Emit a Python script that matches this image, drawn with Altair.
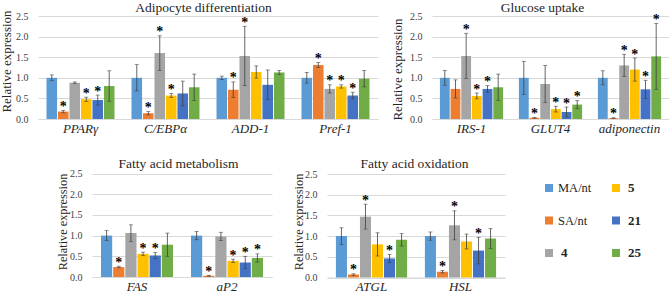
import altair as alt
import pandas as pd

GROUPS = ["MA/nt", "SA/nt", "4", "5", "21", "25"]
COLORS = ["#5B9BD5", "#ED7D31", "#A5A5A5", "#FFC000", "#4472C4", "#70AD47"]

# Adipocyte differentiation
ADIPO_GENES = ["PPARγ", "C/EBPα", "ADD-1", "Pref-1"]
ADIPO_MEAN = [
    [1.00, 0.18, 0.88, 0.48, 0.46, 0.80],
    [1.00, 0.14, 1.60, 0.57, 0.62, 0.77],
    [1.00, 0.71, 1.53, 1.14, 0.83, 1.13],
    [1.00, 1.31, 0.73, 0.79, 0.57, 0.98],
]
ADIPO_ERR = [
    [0.07, 0.03, 0.02, 0.05, 0.12, 0.37],
    [0.32, 0.04, 0.42, 0.05, 0.30, 0.32],
    [0.04, 0.19, 0.72, 0.15, 0.36, 0.05],
    [0.13, 0.06, 0.10, 0.04, 0.08, 0.20],
]
ADIPO_SIG = [
    [0, 1, 0, 1, 1, 0],
    [0, 1, 1, 1, 0, 0],
    [0, 1, 1, 0, 0, 0],
    [0, 1, 1, 1, 1, 0],
]

# Glucose uptake
GLUC_GENES = ["IRS-1", "GLUT4", "adiponectin"]
GLUC_MEAN = [
    [1.00, 0.73, 1.53, 0.56, 0.73, 0.77],
    [1.00, 0.03, 0.85, 0.24, 0.17, 0.35],
    [1.00, 0.02, 1.30, 1.20, 0.72, 1.52],
]
GLUC_ERR = [
    [0.18, 0.22, 0.55, 0.07, 0.08, 0.32],
    [0.40, 0.01, 0.45, 0.07, 0.12, 0.10],
    [0.17, 0.01, 0.27, 0.28, 0.22, 0.80],
]
GLUC_SIG = [
    [0, 0, 1, 1, 1, 0],
    [0, 1, 0, 1, 1, 1],
    [0, 1, 1, 1, 1, 1],
]

# Fatty acid metabolism
FAM_GENES = ["FAS", "aP2"]
FAM_MEAN = [
    [1.00, 0.24, 1.06, 0.56, 0.52, 0.78],
    [1.00, 0.03, 0.98, 0.39, 0.35, 0.46],
]
FAM_ERR = [
    [0.12, 0.02, 0.20, 0.04, 0.07, 0.28],
    [0.10, 0.01, 0.10, 0.04, 0.15, 0.10],
]
FAM_SIG = [
    [0, 1, 0, 1, 1, 0],
    [0, 1, 0, 1, 1, 1],
]

# Fatty acid oxidation
FAO_GENES = ["ATGL", "HSL"]
FAO_MEAN = [
    [1.00, 0.07, 1.47, 0.80, 0.46, 0.91],
    [1.00, 0.14, 1.26, 0.87, 0.65, 0.94],
]
FAO_ERR = [
    [0.20, 0.02, 0.30, 0.28, 0.10, 0.15],
    [0.10, 0.03, 0.35, 0.18, 0.32, 0.24],
]
FAO_SIG = [
    [0, 1, 1, 0, 1, 0],
    [0, 1, 1, 0, 1, 0],
]

Y_TICKS = [0.0, 0.5, 1.0, 1.5, 2.0, 2.5]

W, H = 669, 293
FONT = "Liberation Serif"
GRID = "#D9D9D9"
ERRC = "#3F3F3F"
TXT = "#262626"


def panel(title, genes, means, errs, sigs, xr, yr, title_x, title_base,
          ytitle_x, ytitle_y, ytitle_size):
    rows = []
    for g, m, e, s in zip(genes, means, errs, sigs):
        for grp, mv, ev, sv in zip(GROUPS, m, e, s):
            rows.append(dict(gene=g, group=grp, mean=mv,
                             lo=max(mv - ev, 0.0), hi=mv + ev,
                             star="*" if sv else ""))
    df = pd.DataFrame(rows)
    xax = alt.Axis(orient="bottom", offset=yr[0] - H, labelAngle=0,
                   labelFont=FONT, labelFontSize=13, labelFontStyle="italic",
                   labelColor=TXT, ticks=False, domain=True, domainColor=GRID,
                   labelPadding=3, grid=False,
                   title=title, titleFont=FONT, titleFontSize=13.5,
                   titleFontWeight="normal", titleColor=TXT,
                   titleX=title_x, titleY=title_base - yr[0],
                   titleAlign="center", titleBaseline="alphabetic")
    x = alt.X("gene:N", sort=genes,
              scale=alt.Scale(range=list(xr), paddingInner=0.2, paddingOuter=0.1),
              axis=xax)
    xo = alt.XOffset("group:N", sort=GROUPS, scale=alt.Scale(paddingInner=0.08))
    yscale = alt.Scale(domain=[0, 2.5], range=list(yr), nice=False)
    yax = alt.Axis(orient="left", offset=-xr[0], values=Y_TICKS, format=".1f",
                   title="Relative expression", titleFont=FONT,
                   titleFontSize=ytitle_size, titleFontWeight="normal",
                   titleColor=TXT, titleX=ytitle_x - xr[0], titleY=ytitle_y,
                   titleAngle=270, titleAlign="center", titleBaseline="middle",
                   labelFont=FONT, labelFontSize=10, labelColor="#404040",
                   ticks=False, domain=False, labelOverlap=False,
                   grid=True, gridColor=GRID, labelPadding=10)
    base = alt.Chart(df)
    bars = base.mark_bar().encode(
        x=x, xOffset=xo,
        y=alt.Y("mean:Q", scale=yscale, axis=yax),
        color=alt.Color("group:N", scale=alt.Scale(domain=GROUPS, range=COLORS), legend=None),
    )
    rules = base.mark_rule(color=ERRC, strokeWidth=0.8).encode(
        x=x, xOffset=xo, y=alt.Y("lo:Q", scale=yscale, axis=yax), y2="hi:Q")
    cap_lo = base.mark_tick(color=ERRC, size=4, thickness=0.8, orient="horizontal").encode(
        x=x, xOffset=xo, y=alt.Y("lo:Q", scale=yscale, axis=yax))
    cap_hi = base.mark_tick(color=ERRC, size=4, thickness=0.8, orient="horizontal").encode(
        x=x, xOffset=xo, y=alt.Y("hi:Q", scale=yscale, axis=yax))
    stars = base.mark_text(font=FONT, fontSize=14, fontWeight="bold",
                           color="#000000", fill="#000000",
                           baseline="alphabetic", dy=0.5).encode(
        x=x, xOffset=xo, y=alt.Y("hi:Q", scale=yscale, axis=yax), text="star:N")
    return alt.layer(bars, rules, cap_lo, cap_hi, stars)


p1 = panel("Adipocyte differentiation", ADIPO_GENES, ADIPO_MEAN, ADIPO_ERR, ADIPO_SIG,
           (38, 378), (119, 16), 203, 11, 6, 61, 13)
p2 = panel("Glucose uptake", GLUC_GENES, GLUC_MEAN, GLUC_ERR, GLUC_SIG,
           (432, 669), (119, 16), 542, 11, 397, 69, 13)
p3 = panel("Fatty acid metabolism", FAM_GENES, FAM_MEAN, FAM_ERR, FAM_SIG,
           (92, 272), (277, 173.5), 178, 167.5, 62, 221.5, 12.3)
p4 = panel("Fatty acid oxidation", FAO_GENES, FAO_MEAN, FAO_ERR, FAO_SIG,
           (327, 505), (277.5, 174), 414, 167.5, 298, 221.5, 12.3)

# legend
leg_df = pd.DataFrame({
    "group": GROUPS,
    "col": [i // 3 for i in range(len(GROUPS))],
    "row": [i % 3 for i in range(len(GROUPS))],
    "bold": [0, 0, 1, 1, 1, 1],
})
lx = alt.X("col:O", scale=alt.Scale(type="point", range=[549, 616], padding=0), axis=None)
ly = alt.Y("row:O", scale=alt.Scale(type="point", range=[188, 253], padding=0), axis=None)
lbase = alt.Chart(leg_df)
lsq = lbase.mark_square(size=64, opacity=1).encode(
    x=lx, y=ly,
    color=alt.Color("group:N", scale=alt.Scale(domain=GROUPS, range=COLORS), legend=None))
ltxt = lbase.transform_filter("datum.bold == 0").mark_text(
    font=FONT, fontSize=12.5, align="left", baseline="middle", dx=9, color=TXT).encode(
    x=lx, y=ly, text="group:N")
ltxtb = lbase.transform_filter("datum.bold == 1").mark_text(
    font=FONT, fontSize=13, fontWeight="bold", align="left", baseline="middle", dx=12,
    color=TXT).encode(x=lx, y=ly, text="group:N")
legend = alt.layer(lsq, ltxt, ltxtb)

chart = alt.layer(p1, p2, p3, p4, legend).resolve_scale(
    x="independent", y="independent", xOffset="independent"
).resolve_axis(
    x="independent", y="independent"
).properties(
    width=W, height=H,
    autosize=alt.AutoSizeParams(type="none"),
    padding=0,
    background="white",
).configure_view(stroke=None)

chart.save("out.html", embed_options={"renderer": "svg", "actions": False})
